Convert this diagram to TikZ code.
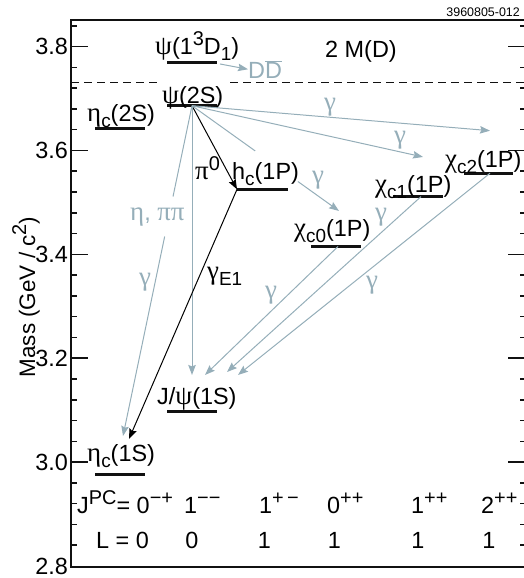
\documentclass[tikz,border=0pt]{standalone}
\usepackage{fontspec}
\setmainfont{Liberation Sans}
\newfontfamily\greekfont[Scale=1.15]{Liberation Serif}
\usetikzlibrary{arrows.meta,calc}
\definecolor{levelink}{HTML}{111111}
\definecolor{photonblue}{HTML}{95AEB9}
\newcommand{\gk}[1]{{\greekfont #1}}
\newcommand{\sups}[1]{\raisebox{0.4em}{\fontsize{20}{22}\selectfont #1}}
\newcommand{\subs}[1]{\raisebox{-0.24em}{\fontsize{19}{21}\selectfont #1}}

\begin{document}
\begin{tikzpicture}[x=1bp, y=519.5bp,
  every node/.style={font={\fontsize{23.5}{27}\selectfont}, inner sep=0pt},
  level/.style={levelink, line width=3bp},
  tickmark/.style={levelink, line width=1.5bp},
  photon/.style={photonblue, line width=1bp},
  trans/.style={photon, -{Stealth[length=10bp,width=7.5bp,inset=1.5bp]}},
  hadr/.style={black, line width=1bp, -{Stealth[length=10bp,width=7.5bp,inset=1.5bp]}}]

  \useasboundingbox (0,2.7769) rectangle (524,3.8895);

  % frame and ticks
  \draw[levelink, line width=2bp] (524,3.851) -- (71,3.851) -- (71,2.799) -- (524,2.799);
  \foreach \i in {1,...,26}
    \draw[tickmark] (71,2.8+0.04*\i) -- ++(6,0) (524,2.8+0.04*\i) -- ++(-4,0);
  \foreach \m in {3.0,3.2,3.4,3.6,3.8}
    \draw[tickmark] (71,\m) -- ++(17,0) (524,\m) -- ++(-16,0);
  \foreach \m [count=\k] in {2.8,3.0,3.2,3.4,3.6,3.8}
    \node[anchor=east] (ytick\k) at (68,\m) {\m};
  \node[rotate=90, font={\fontsize{22.5}{26}\selectfont}] (ylabel) at (26,3.3178) {Mass (GeV / c\sups{2})};
  \node[anchor=base east, font={\fontsize{12.5}{14}\selectfont}] (figid) at (520,3.8574) {3960805-012};

  % open charm threshold
  \draw[levelink, line width=1bp, dash pattern=on 8bp off 5bp] (71,3.730) -- (157,3.730) (230,3.730) -- (524,3.730);
  \node[anchor=base west] (twoMD) at (325,3.7779) {2 M(D)};

  % levels
  \draw[level] (167,3.770) -- (217,3.770);
  \draw[level] (167,3.686) -- (217,3.686);
  \draw[level] (95,3.642) -- (145,3.642);
  \draw[level] (237,3.525) -- (288,3.525);
  \draw[level] (311,3.415) -- (361,3.415);
  \draw[level] (393,3.511) -- (443,3.511);
  \draw[level] (464,3.556) -- (513,3.556);
  \draw[level] (167,3.097) -- (217,3.097);
  \draw[level] (95,2.977) -- (145,2.977);

  \node[anchor=base west] (psiD) at (155,3.7836) {\gk{ψ}(1\sups{3}D\subs{1})};
  \node[anchor=base west] (psiTwoS) at (162,3.6895) {\gk{ψ}(2S)};
  \node[anchor=base west] (etaTwoS) at (87,3.6549) {\gk{η}\subs{c}(2S)};
  \node[anchor=base west] (hc) at (232,3.5430) {h\subs{c}(1P)};
  \node[anchor=base west] (chiZero) at (294,3.4333) {\gk{χ}\subs{c0}(1P)};
  \node[anchor=base west] (chiOne) at (375,3.5184) {\gk{χ}\subs{c1}(1P)};
  \node[anchor=base west] (chiTwo) at (445,3.5665) {\gk{χ}\subs{c2}(1P)};
  \node[anchor=base west] (jpsi) at (157,3.1099) {J/\gk{ψ}(1S)};
  \node[anchor=base west] (etaOneS) at (87,3.0002) {\gk{η}\subs{c}(1S)};

  % transition end points
  \coordinate (psiDend) at (220,3.7663);
  \coordinate (psiS) at (192,3.686);
  \coordinate (hcL) at (237,3.525);
  \coordinate (chiTwoTip) at (490,3.6379);
  \coordinate (chiOneTip) at (423,3.5873);
  \coordinate (chiZeroTip) at (339,3.4834);
  \coordinate (jpsiTop) at (192,3.1677);
  \coordinate (etaTip) at (123,3.0502);
  \coordinate (etaTipE) at (129,3.0445);
  \coordinate (chiZeroMid) at (338,3.415);
  \coordinate (chiOneMid) at (421,3.511);
  \coordinate (chiTwoMid) at (490,3.556);
  \coordinate (jpsiA) at (205,3.1677);
  \coordinate (jpsiB) at (227,3.1734);
  \coordinate (jpsiC) at (238,3.1677);

  \node[photonblue, anchor=base west] (DDbar) at (248,3.7387) {D$\overline{\mbox{D}}$};
  \draw[trans] (psiDend) -- (DDbar.west);

  \draw[hadr] (psiS) -- (hcL);
  \draw[trans] (psiS) -- (chiTwoTip);
  \draw[trans] (psiS) -- (chiOneTip);
  \draw[photon] (psiS) -- ($(psiS)!0.43!(chiZeroTip)$);
  \draw[trans] ($(psiS)!0.72!(chiZeroTip)$) -- (chiZeroTip);
  \draw[trans] (psiS) -- (jpsiTop);
  \draw[photon] (psiS) -- ($(psiS)!0.275!(etaTip)$);
  \draw[trans] ($(psiS)!0.396!(etaTip)$) -- (etaTip);
  \draw[hadr] (hcL) -- (etaTipE);
  \draw[trans] (chiZeroMid) -- (jpsiA);
  \draw[trans] (chiOneMid) -- (jpsiB);
  \draw[trans] (chiTwoMid) -- (jpsiC);

  % transition labels
  \node[anchor=base west] (pizero) at (195,3.543) {\gk{π}\sups{0}};
  \node[anchor=base west] (gammaEone) at (207,3.3505) {\gk{γ}\subs{E1}};
  \node[photonblue, anchor=base west] (etapipi) at (130,3.4641) {\gk{η}, \gk{ππ}};
  \node[photonblue] (gamEta) at (145,3.3467) {\gk{γ}};
  \node[photonblue] (gamTwo) at (330,3.6835) {\gk{γ}};
  \node[photonblue] (gamOne) at (400,3.62) {\gk{γ}};
  \node[photonblue] (gamZero) at (318,3.543) {\gk{γ}};
  \node[photonblue] (gamJa) at (271,3.3217) {\gk{γ}};
  \node[photonblue] (gamJb) at (381,3.472) {\gk{γ}};
  \node[photonblue] (gamJc) at (372,3.3409) {\gk{γ}};

  % quantum numbers
  \node[anchor=base west] (jpcA) at (77,2.9001) {J\sups{PC}= 0\sups{−+}};
  \node[anchor=base west] (jpcB) at (184,2.9001) {1\sups{−−}};
  \node[anchor=base west] (jpcC) at (259,2.9001) {1\sups{+\,−}};
  \node[anchor=base west] (jpcD) at (327,2.9001) {0\sups{++}};
  \node[anchor=base west] (jpcE) at (411,2.9001) {1\sups{++}};
  \node[anchor=base west] (jpcF) at (481,2.9001) {2\sups{++}};
  \node[anchor=base west] (ellA) at (96,2.8327) {L = 0};
  \node[anchor=base] (ellB) at (192,2.8327) {0};
  \node[anchor=base] (ellC) at (264.5,2.8327) {1};
  \node[anchor=base] (ellD) at (334.5,2.8327) {1};
  \node[anchor=base] (ellE) at (418,2.8327) {1};
  \node[anchor=base] (ellF) at (489,2.8327) {1};

\end{tikzpicture}
\end{document}
